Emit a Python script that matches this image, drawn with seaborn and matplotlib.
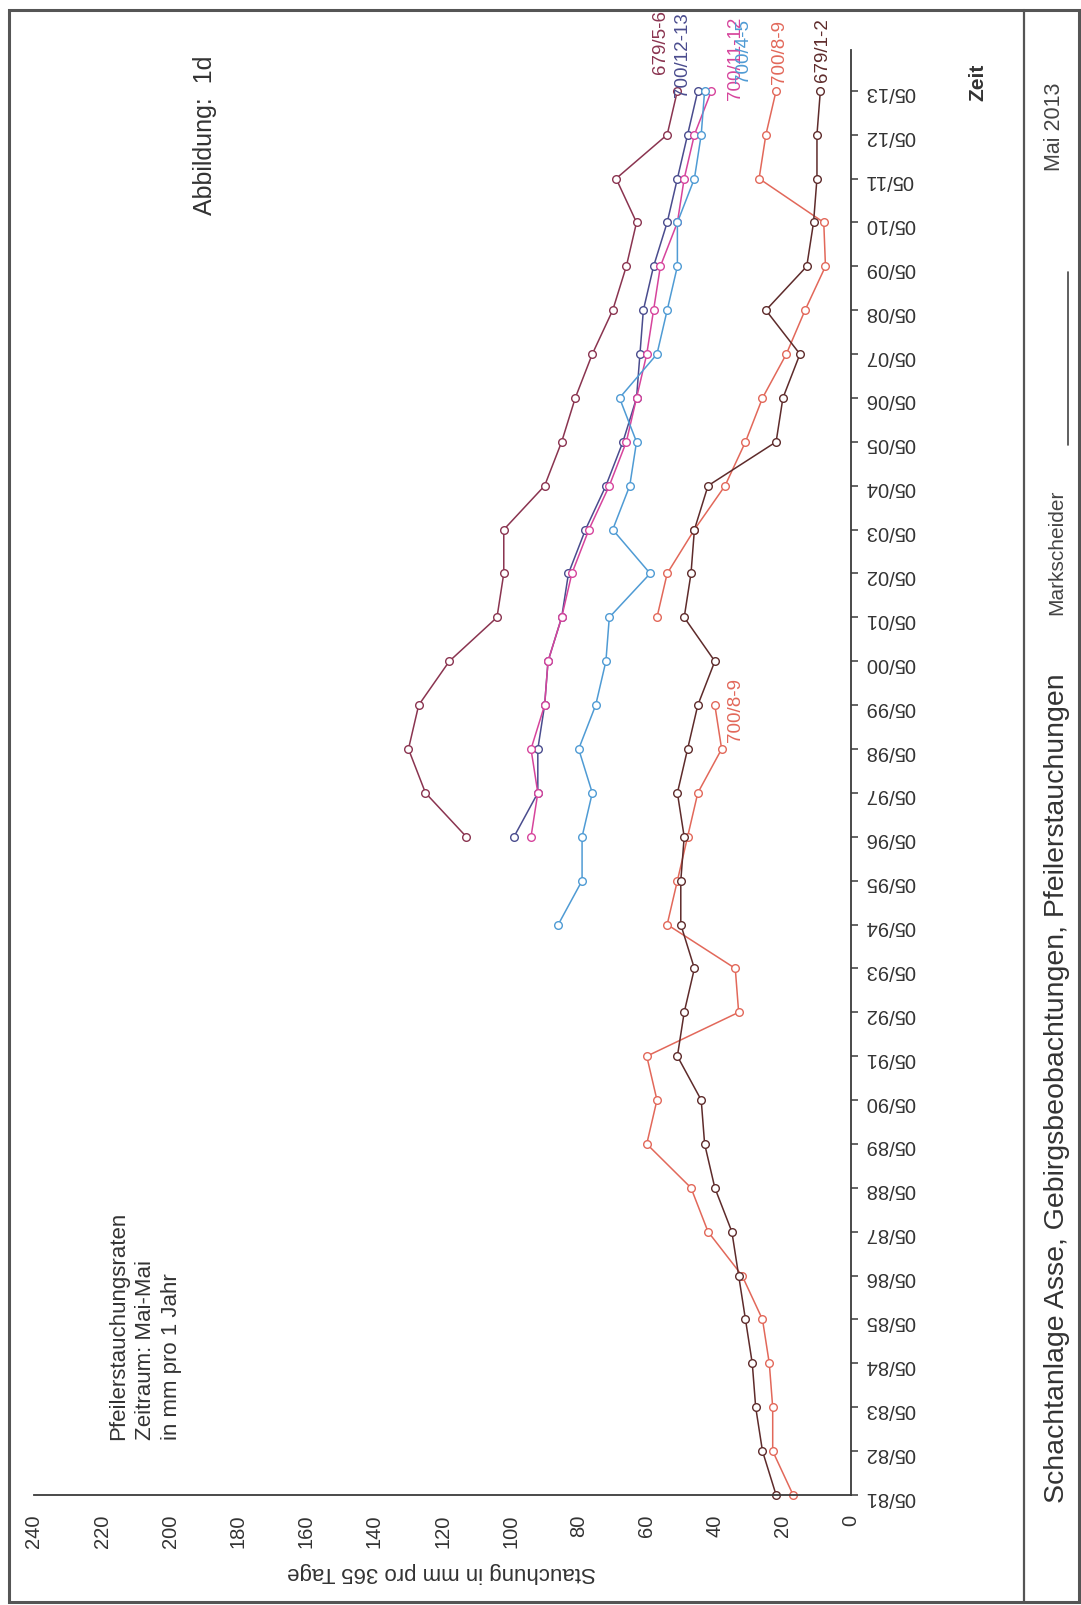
import numpy as np
import pandas as pd
import matplotlib
matplotlib.use("Agg")
import matplotlib.pyplot as plt
import seaborn as sns
from matplotlib.ticker import MultipleLocator
from matplotlib.transforms import Bbox, TransformedBbox
from matplotlib.patches import Rectangle
from matplotlib.lines import Line2D

# ---------------- data ----------------
zeit_labels = ["05/81", "05/82", "05/83", "05/84", "05/85", "05/86", "05/87", "05/88",
               "05/89", "05/90", "05/91", "05/92", "05/93", "05/94", "05/95", "05/96",
               "05/97", "05/98", "05/99", "05/00", "05/01", "05/02", "05/03", "05/04",
               "05/05", "05/06", "05/07", "05/08", "05/09", "05/10", "05/11", "05/12",
               "05/13"]

N = None
s_679_12 = [22, 26, 28, 29, 31, 33, 35, 40, 43, 44,
            51, 49, 46, 50, 50, 49, 51, 48, 45, 40,
            49, 47, 46, 42, 22, 20, 15, 25, 13, 11,
            10, 10, 9]
s_700_89 = [17, 23, 23, 24, 26, 32, 42, 47, 60, 57,
            60, 33, 34, 54, 51, 48, 45, 38, 40, N,
            57, 54, 46, 37, 31, 26, 19, 13.5, 7.5, 8,
            27, 25, 22]
s_700_45 = [N, N, N, N, N, N, N, N, N, N,
            N, N, N, 86, 79, 79, 76, 80, 75, 72,
            71, 59, 70, 65, 63, 68, 57, 54, 51, 51,
            46, 44, 43]
s_679_56 = [N, N, N, N, N, N, N, N, N, N,
            N, N, N, N, N, 113, 125, 130, 127, 118,
            104, 102, 102, 90, 85, 81, 76, 70, 66, 63,
            69, 54, 51]
s_700_1213 = [N, N, N, N, N, N, N, N, N, N,
              N, N, N, N, N, 99, 92, 92, 90, 89,
              85, 83, 78, 72, 67, 63, 62, 61, 58, 54,
              51, 48, 45]
s_700_1112 = [N, N, N, N, N, N, N, N, N, N,
              N, N, N, N, N, 94, 92, 94, 90, 89,
              85, 82, 77, 71, 66, 63, 60, 58, 56, 51,
              49, 46, 41]

series_names = ["679/5-6", "700/12-13", "700/11-12", "700/4-5", "700/8-9", "679/1-2"]
series_vals = [s_679_56, s_700_1213, s_700_1112, s_700_45, s_700_89, s_679_12]
series_colors = ["#8a3450", "#4a4c8e", "#d6449c", "#4f9bd4", "#e2685a", "#5e2b2b"]

# build long table; a gap (None) starts a new segment
rows = []
for name, vals in zip(series_names, series_vals):
    seg = 0
    prev_none = True
    for i, v in enumerate(vals):
        if v is None:
            if not prev_none:
                seg += 1
            prev_none = True
            continue
        prev_none = False
        rows.append({"serie": name, "seg": f"{name}_{seg}", "t": i, "wert": v})
df = pd.DataFrame(rows)

# ---------------- figure ----------------
sns.set_style("white")
plt.rcParams["font.family"] = ["Liberation Sans", "DejaVu Sans"]

W, H = 1081, 1605
fig = plt.figure(figsize=(W / 100, H / 100), dpi=100)

def fx(px):
    return px / W

def fy(py):
    return 1 - py / H

ax_left, ax_right, ax_top, ax_bot = 34, 851, 50, 1495
ax = fig.add_axes([fx(ax_left), fy(ax_bot), fx(ax_right - ax_left), (ax_bot - ax_top) / H])
ax.set_facecolor("none")

pal = dict(zip(series_names, series_colors))
sns.lineplot(data=df, x="wert", y="t", hue="serie", units="seg", estimator=None,
             sort=False, palette=pal, hue_order=series_names, legend=False,
             marker="o", markersize=5.5, linewidth=1.1, ax=ax)
for ln in ax.lines:
    ln.set_markerfacecolor("white")
    ln.set_markeredgecolor(ln.get_color())
    ln.set_markeredgewidth(1.0)
    ln.set_clip_on(False)

ax.set_xlim(240, 0)
ax.set_ylim(0, 32.93)

# spines
for s in ["top", "left"]:
    ax.spines[s].set_visible(False)
for s in ["bottom", "right"]:
    ax.spines[s].set_color("#3a3a3a")
    ax.spines[s].set_linewidth(1.3)

# value axis (bottom)
ax.xaxis.set_major_locator(MultipleLocator(20))
ax.xaxis.set_minor_locator(MultipleLocator(10))
ax.tick_params(axis="x", which="both", direction="out", length=5, width=1.1,
               color="#3a3a3a", labelsize=14.5, labelcolor="#333333", pad=9,
               labelrotation=90)
ax.set_xlabel("")

# time axis (right)
ax.yaxis.tick_right()
ax.set_yticks(range(len(zeit_labels)))
ax.set_yticklabels(zeit_labels)
ax.tick_params(axis="y", which="both", direction="out", length=5, width=1.1,
               color="#3a3a3a", labelsize=14.5, labelcolor="#333333", pad=5,
               labelrotation=180, left=False, right=True)
ax.set_ylabel("")
ax.grid(False)

# axis titles
fig.text(fx(442), fy(1573), "Stauchung in mm pro 365 Tage", rotation=180,
         ha="center", va="center", fontsize=16, color="#333333")
fig.text(fx(978), fy(82), "Zeit", rotation=90, ha="center", va="center",
         fontsize=15, fontweight="bold", color="#333333")

# series labels at the line ends
border_bb = TransformedBbox(Bbox([[fx(9), fy(1602)], [fx(1079), fy(10)]]), fig.transFigure)
end_labels = [(56.0, 32.38), (49.5, 31.86), (34.0, 31.80), (31.5, 32.18), (21.0, 32.15), (8.5, 32.2)]
for name, col, (xv, yv) in zip(series_names, series_colors, end_labels):
    t = ax.text(xv, yv, name, rotation=90, ha="center", va="bottom", fontsize=13.5,
                color=col)
    t.set_clip_box(border_bb)
    t.set_clip_on(True)

# annotation of the older 700/8-9 series
ax.text(34, 17.9, "700/8-9", rotation=90, ha="center", va="center", fontsize=13.5,
        color=series_colors[4])

# descriptive texts
fig.text(fx(108), fy(1440), "Pfeilerstauchungsraten\nZeitraum: Mai-Mai\nin mm pro 1 Jahr",
         rotation=90, ha="left", va="bottom", multialignment="left", fontsize=16,
         linespacing=1.35, color="#333333")
fig.text(fx(205), fy(215), "Abbildung:  1d", rotation=90, ha="center", va="bottom",
         fontsize=18, color="#333333")

# footer strip (right side)
fig.text(fx(1057), fy(1503), "Schachtanlage Asse, Gebirgsbeobachtungen, Pfeilerstauchungen",
         rotation=90, ha="center", va="bottom", fontsize=20.5, color="#333333")
fig.text(fx(1057), fy(615), "Markscheider", rotation=90, ha="center", va="bottom",
         fontsize=15, color="#444444")
fig.text(fx(1055), fy(83), "Mai 2013", rotation=90, ha="center", va="top",
         fontsize=15.5, color="#444444")
fig.add_artist(Line2D([fx(1068), fx(1068)], [fy(445), fy(272)], transform=fig.transFigure,
                      color="#444444", lw=1.2))

# frame and divider
fig.add_artist(Rectangle((fx(9), fy(1602)), fx(1079) - fx(9), fy(10) - fy(1602),
                         transform=fig.transFigure, fill=False, edgecolor="#555555", lw=2.2))
fig.add_artist(Line2D([fx(1024), fx(1024)], [fy(1602), fy(10)], transform=fig.transFigure,
                      color="#555555", lw=1.6))

fig.savefig("out.png", dpi=100, facecolor="white")
